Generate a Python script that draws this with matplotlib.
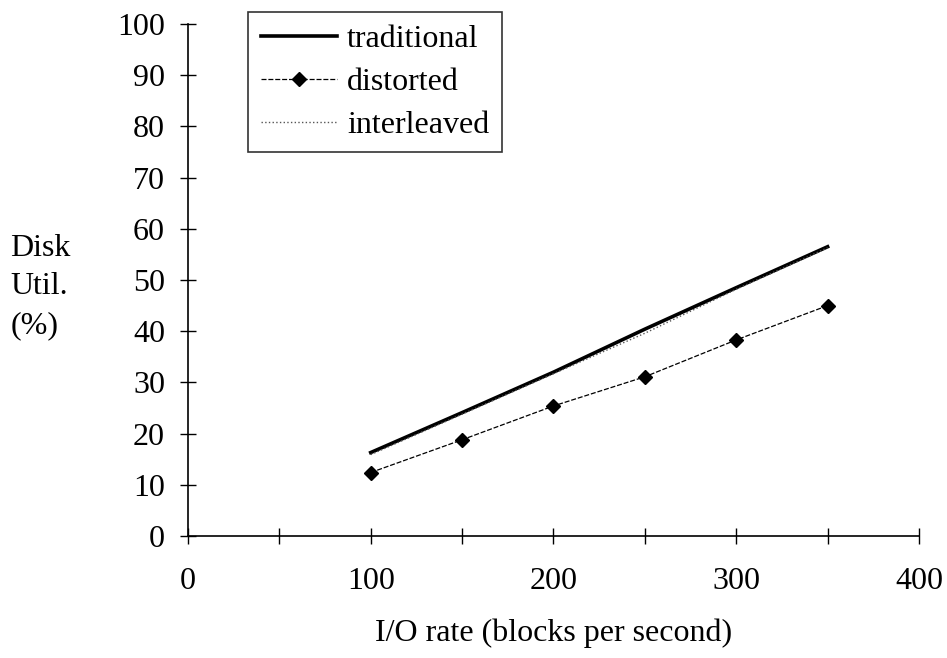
import matplotlib.pyplot as plt

# data
io_rate = [100, 150, 200, 250, 300, 350]
traditional = [16.3, 24.1, 32.0, 40.4, 48.5, 56.5]
distorted = [12.4, 18.8, 25.4, 31.1, 38.3, 45.0]
interleaved = [15.9, 23.8, 31.7, 39.6, 48.2, 56.3]

x_ticks = [0, 100, 200, 300, 400]
y_ticks = list(range(0, 101, 10))

plt.rcParams['font.family'] = ['Liberation Serif', 'DejaVu Serif']
FS = 23

fig = plt.figure(figsize=(9.47, 6.58), dpi=100)
ax = fig.add_axes([0.1985, 0.1854, 0.7719, 0.7781])

ax.plot(io_rate, traditional, color='black', lw=2.6, label='traditional')
ax.plot(io_rate, distorted, color='black', lw=0.9, ls=(0, (4, 1.5)),
        marker='D', ms=7, label='distorted')
ax.plot(io_rate, interleaved, color='#555555', lw=1.0, ls=':', label='interleaved')

ax.set_xlim(0, 400)
ax.set_ylim(0, 100)
ax.set_xticks(range(0, 401, 50))
ax.set_xticklabels([str(v) if v in x_ticks else '' for v in range(0, 401, 50)])
ax.set_yticks(y_ticks)
ax.tick_params(direction='inout', length=11, width=1, labelsize=FS, colors='black')
ax.tick_params(axis='x', pad=17)
ax.tick_params(axis='y', pad=11)
for s in ['top', 'right']:
    ax.spines[s].set_visible(False)
for s in ['left', 'bottom']:
    ax.spines[s].set_linewidth(1.2)

ax.set_xlabel('I/O rate (blocks per second)', fontsize=FS, labelpad=16)
fig.text(0.011, 0.645, 'Disk\nUtil.\n(%)', fontsize=FS, ha='left', va='top',
         linespacing=1.45)

leg = ax.legend(loc='upper left', bbox_to_anchor=(248 / 947, 1 - 12 / 658),
                bbox_transform=fig.transFigure, fontsize=FS, frameon=True,
                fancybox=False, edgecolor='black', handlelength=2.4,
                handletextpad=0.3, borderpad=0.4, labelspacing=0.42,
                borderaxespad=0)
leg.get_frame().set_linewidth(1.2)

fig.savefig('out.png', dpi=100)
